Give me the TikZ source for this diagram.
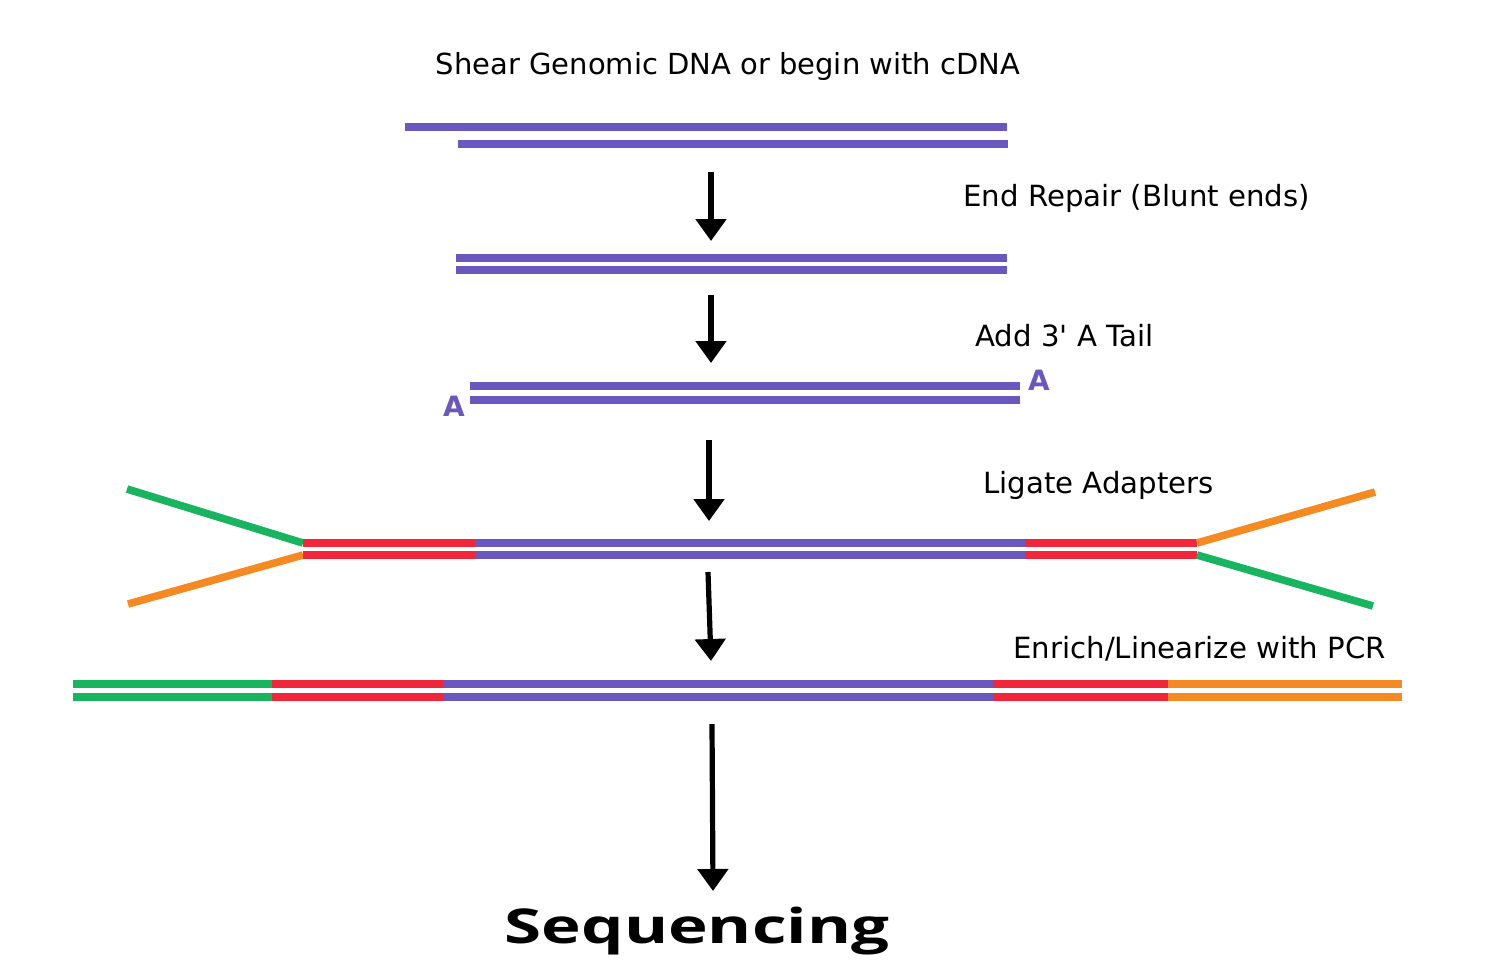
\documentclass[tikz,border=0pt]{standalone}
\usepackage{fontspec}
\setmainfont{DejaVu Sans}
\newfontfamily\seqfont{Open Sans}
\usetikzlibrary{arrows.meta, positioning}
\definecolor{dnapurple}{RGB}{106,88,190}
\definecolor{adred}{RGB}{242,38,58}
\definecolor{adgreen}{RGB}{24,180,96}
\definecolor{adorange}{RGB}{246,138,34}

\begin{document}
\begin{tikzpicture}[x=0.5pt, y=-0.5pt,
	strand/.style={line width=3.8pt},
	flow/.style={line width=2.6pt, -{Triangle[width=15pt, length=11pt]}},
	steplabel/.style={anchor=west, inner sep=0pt, font=\fontsize{14.6}{17}\selectfont},
	tail/.style={inner sep=0pt, text=dnapurple, font=\fontsize{14}{16}\selectfont\bfseries}]
	\useasboundingbox (0,0) rectangle (1494,960);
	% texts
	\node (shear) [inner sep=0pt, font=\fontsize{14.5}{17}\selectfont] at (728,66) {Shear Genomic DNA or begin with cDNA};
	\node (repair) [steplabel] at (963,198) {End Repair (Blunt ends)};
	\node (atail) [steplabel] at (975,336) {Add 3\textquotesingle{} A Tail};
	\node (ligate) [steplabel] at (983,485) {Ligate Adapters};
	\node (enrich) [steplabel] at (1013,649) {Enrich/Linearize with PCR};
	\node (seq) [inner sep=0pt, anchor=base, font=\fontsize{24}{28}\selectfont\seqfont\bfseries] at (697,943) {\scalebox{1.4}[1]{Sequencing}};
	% sheared DNA
	\draw[strand, dnapurple] (405,127) -- (1007,127);
	\draw[strand, dnapurple] (458,144) -- (1008,144);
	% blunt ends
	\draw[strand, dnapurple] (456,258) -- (1007,258);
	\draw[strand, dnapurple] (456,270) -- (1007,270);
	% A tails
	\draw[strand, dnapurple] (470,386) -- (1020,386);
	\draw[strand, dnapurple] (470,400) -- (1020,400);
	\node (a1) [tail] at (1039,380) {A};
	\node (a2) [tail] at (454,406) {A};
	% adapters
	\draw[strand, adgreen] (127,489) -- (303,543);
	\draw[strand, adorange] (128,604) -- (303,555);
	\draw[strand, adred] (303,543) -- (475,543);
	\draw[strand, adred] (303,555) -- (475,555);
	\draw[strand, dnapurple] (475,543) -- (1025,543);
	\draw[strand, dnapurple] (475,555) -- (1025,555);
	\draw[strand, adred] (1025,543) -- (1197,543);
	\draw[strand, adred] (1025,555) -- (1197,555);
	\draw[strand, adorange] (1197,543) -- (1375,492);
	\draw[strand, adgreen] (1197,555) -- (1373,606);
	% linear product
	\foreach \y in {684,697} {
		\draw[strand, adgreen] (73,\y) -- (272,\y);
		\draw[strand, adred] (272,\y) -- (443,\y);
		\draw[strand, dnapurple] (443,\y) -- (993,\y);
		\draw[strand, adred] (993,\y) -- (1168,\y);
		\draw[strand, adorange] (1168,\y) -- (1402,\y);
	}
	% arrows
	\coordinate (s1) at (711,172); \coordinate (e1) at (711,241);
	\coordinate (s2) at (711,295); \coordinate (e2) at (711,363);
	\coordinate (s3) at (709,440); \coordinate (e3) at (709,521);
	\coordinate (s4) at (708,572); \coordinate (e4) at (711,661);
	\coordinate (s5) at (712,724); \coordinate (e5) at (713,891);
	\foreach \i in {1,...,5} {
		\draw[flow] (s\i) -- (e\i);
	}
\end{tikzpicture}
\end{document}
